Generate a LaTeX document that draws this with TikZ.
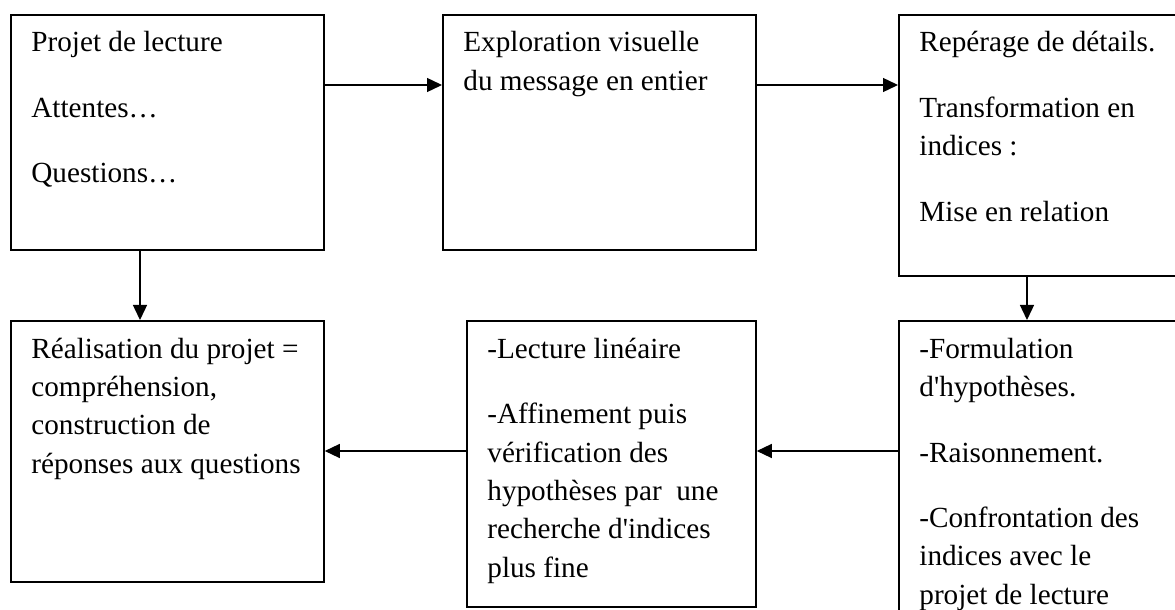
\documentclass[tikz,border=0pt]{standalone}
\usepackage{fontspec}
\newfontfamily\bodyfont{Liberation Serif}
\usetikzlibrary{arrows.meta}
\newcommand\boxlines[1]{\begin{tabular}[t]{@{}l@{}}#1\end{tabular}}
\begin{document}
\begin{tikzpicture}[x=0.5pt,y=-0.5pt,
  stage/.style={draw,line width=0.9pt,rectangle,inner sep=0pt,anchor=north west},
  stagetext/.style={anchor=base west,inner sep=0pt,xshift=10.5pt,yshift=-19pt,
    font=\bodyfont\fontsize{14.6}{19.25}\selectfont},
  conn/.style={line width=0.7pt,-{Triangle[length=7.5pt,width=7pt]}}]
\useasboundingbox (0,0) rectangle (1175,610);
\clip (0,0) rectangle (1175,610);
\node[stage,minimum width=156.5pt,minimum height=117.5pt] (b1) at (10,14) {};
\node[stage,minimum width=156.5pt,minimum height=117.5pt] (b2) at (442,14) {};
\node[stage,minimum width=150pt,minimum height=130.5pt] (b3) at (898,14) {};
\node[stage,minimum width=156.5pt,minimum height=130.5pt] (b4) at (10,320) {};
\node[stage,minimum width=144.5pt,minimum height=143pt] (b5) at (466,320) {};
\node[stage,minimum width=150pt,minimum height=160pt] (b6) at (898,320) {};
\node[stagetext] (t1) at (b1.north west) {\boxlines{Projet de lecture\\[13.5pt] Attentes…\\[13.5pt] Questions…}};
\node[stagetext] (t2) at (b2.north west) {\boxlines{Exploration visuelle\\ du message en entier}};
\node[stagetext] (t3) at (b3.north west) {\boxlines{Repérage de détails.\\[13.5pt] Transformation en\\ indices :\\[13.5pt] Mise en relation}};
\node[stagetext] (t4) at (b4.north west) {\boxlines{Réalisation du projet =\\ compréhension,\\ construction de\\ réponses aux questions}};
\node[stagetext] (t5) at (b5.north west) {\boxlines{-Lecture linéaire\\[13.5pt] -Affinement puis\\ vérification des\\ hypothèses par~ une\\ recherche d'indices\\ plus fine}};
\node[stagetext] (t6) at (b6.north west) {\boxlines{-Formulation\\ d'hypothèses.\\[13.5pt] -Raisonnement.\\[13.5pt] -Confrontation des\\ indices avec le\\ projet de lecture}};
\draw[conn] ([yshift=-35.5pt]b1.north east) -- ([yshift=-35.5pt]b2.north west);
\draw[conn] ([yshift=-35.5pt]b2.north east) -- ([yshift=-35.5pt]b3.north west);
\draw[conn] ([xshift=65pt]b1.south west) -- ([xshift=65pt]b4.north west);
\draw[conn] ([xshift=64.5pt]b3.south west) -- ([xshift=64.5pt]b6.north west);
\draw[conn] ([yshift=-65.5pt]b6.north west) -- ([yshift=-65.5pt]b5.north east);
\draw[conn] ([yshift=-65.5pt]b5.north west) -- ([yshift=-65.5pt]b4.north east);
\end{tikzpicture}
\end{document}
